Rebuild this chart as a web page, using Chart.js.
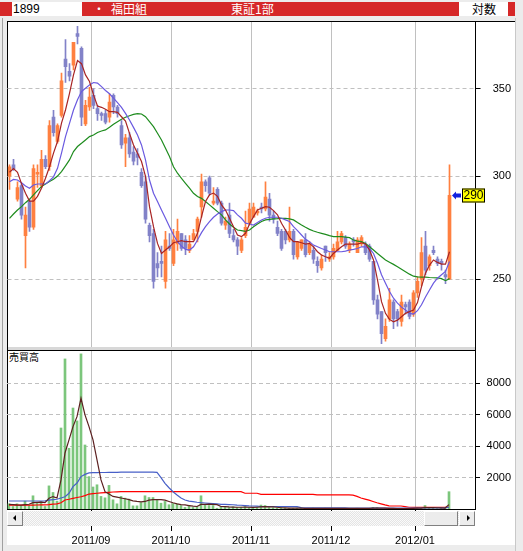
<!DOCTYPE html>
<html>
<head>
<meta charset="utf-8">
<script src="https://cdn.jsdelivr.net/npm/chart.js@4/dist/chart.umd.min.js"></script>
<style>
  body { margin: 0; width: 523px; height: 551px; background: #ececec; position: relative; overflow: hidden; }
  .abs { position: absolute; }
  .jp { font-family: "Noto Sans CJK JP", sans-serif; }
  .num { font-family: "Liberation Sans", sans-serif; }
  .btn { background: #ececec; box-sizing: border-box; border: 1px solid; border-color: #fff #808080 #808080 #fff; }
  canvas { position: absolute; left: 0; }
</style>
</head>
<body>
<!-- header strip -->
<div class="abs" style="left:0;top:2px;width:515px;height:14px;background:#d62828;"></div>
<div class="abs num" style="left:12px;top:2px;width:70px;height:14px;background:#fff;font-size:12px;line-height:14px;color:#000;padding-left:1px;box-sizing:border-box;">1899</div>
<div class="abs jp" style="left:93px;top:1px;font-size:12px;line-height:16px;color:#fff;">・</div>
<div class="abs jp" style="left:111px;top:1px;font-size:12px;line-height:16px;color:#fff;">福田組</div>
<div class="abs jp" style="left:231px;top:1px;font-size:12px;line-height:16px;color:#fff;">東証1部</div>
<div class="abs" style="left:459px;top:2px;width:49px;height:14px;background:#fff;"></div>
<div class="abs jp" style="left:472px;top:1px;font-size:12px;line-height:16px;color:#000;">対数</div>

<!-- frame -->
<div class="abs" style="left:2px;top:18px;width:1px;height:533px;background:#a0a0a0;"></div>
<div class="abs" style="left:515px;top:18px;width:1px;height:533px;background:#c8c8c8;"></div>
<div class="abs" style="left:7px;top:21px;width:508px;height:524px;background:#fff;"></div>
<div class="abs" style="left:7px;top:21px;width:508px;height:1px;background:#000;"></div>
<div class="abs" style="left:7px;top:21px;width:1px;height:489px;background:#000;"></div>
<div class="abs" style="left:8px;top:347px;width:467px;height:3px;background:#d8d8d8;"></div>
<div class="abs" style="left:7px;top:350px;width:468px;height:1px;background:#000;"></div>
<div class="abs" style="left:475px;top:21px;width:1px;height:489px;background:#000;"></div>
<div class="abs jp" style="left:9px;top:350px;font-size:10px;line-height:13px;color:#000;">売買高</div>

<canvas id="price" width="523" height="325" style="top:22px;width:523px;height:325px;"></canvas>
<canvas id="volume" width="523" height="194" style="top:351px;width:523px;height:194px;"></canvas>

<!-- scroll bar -->
<div class="abs" style="left:7px;top:511px;width:468px;height:15px;background-image:repeating-conic-gradient(#e4e4e4 0 25%, #fafafa 0 50%);background-size:2px 2px;"></div>
<div class="abs btn" style="left:7px;top:511px;width:16px;height:15px;"></div>
<div class="abs" style="left:13px;top:515px;width:0;height:0;border-top:3px solid transparent;border-bottom:3px solid transparent;border-right:3px solid #000;"></div>
<div class="abs btn" style="left:424px;top:511px;width:34px;height:15px;"></div>
<div class="abs btn" style="left:459px;top:511px;width:16px;height:15px;"></div>
<div class="abs" style="left:467px;top:515px;width:0;height:0;border-top:3px solid transparent;border-bottom:3px solid transparent;border-left:3px solid #000;"></div>

<script>
// trading days per month
const months = ["2011/08", "2011/09", "2011/10", "2011/11", "2011/12", "2012/01"];
const tradingDays = [
  [3, 4, 5, 8, 9, 10, 11, 12, 15, 16, 17, 18, 19, 22, 23, 24, 25, 26, 29, 30, 31],
  [1, 2, 5, 6, 7, 8, 9, 12, 13, 14, 15, 16, 20, 21, 22, 26, 27, 28, 29, 30],
  [3, 4, 5, 6, 7, 11, 12, 13, 14, 17, 18, 19, 20, 21, 24, 25, 26, 27, 28, 31],
  [1, 2, 4, 7, 8, 9, 10, 11, 14, 15, 16, 17, 18, 21, 22, 24, 25, 28, 29, 30],
  [1, 2, 5, 6, 7, 8, 9, 12, 13, 14, 15, 16, 19, 20, 21, 22, 26, 27, 28, 29, 30],
  [4, 5, 6, 10, 11, 12, 13, 16, 17],
];
const emptySlots = 6;

const open = [
  300, 306, 288, 295, 270, 287, 274, 301, 295, 309,
  305, 333, 319, 334, 369, 361, 365, 386, 376, 329,
  339, 346, 338, 335, 335, 333, 346, 339, 328, 318,
  321, 313, 312, 302, 297, 275, 271, 257, 258, 249,
  265, 257, 266, 271, 268, 263, 268, 272, 284, 297,
  299, 286, 293, 286, 275, 280, 270, 268, 263, 270,
  276, 279, 281, 284, 283, 288, 280, 274, 272, 272,
  268, 272, 260, 264, 268, 262, 263, 258, 255, 265,
  259, 260, 263, 267, 269, 263, 268, 262, 266, 266,
  265, 258, 241, 236, 225, 233, 240, 236, 232, 239,
  240, 235, 244, 250, 265, 256, 263, 259, 258, 252,
  250,
];
const high = [
  306, 309, 297, 296, 284, 288, 306, 306, 314, 311,
  331, 337, 329, 360, 382, 366, 380, 391, 377, 343,
  351, 350, 340, 336, 337, 347, 347, 340, 331, 323,
  324, 316, 315, 304, 300, 276, 273, 262, 265, 272,
  271, 273, 278, 271, 270, 270, 273, 279, 301, 298,
  300, 294, 294, 287, 279, 286, 273, 269, 269, 282,
  286, 286, 283, 286, 297, 291, 282, 277, 273, 273,
  284, 273, 267, 268, 271, 267, 265, 260, 261, 265,
  262, 266, 272, 272, 270, 267, 269, 269, 270, 267,
  266, 258, 243, 236, 233, 246, 241, 237, 243, 240,
  241, 245, 251, 269, 272, 261, 265, 260, 259, 254,
  306,
];
const low = [
  293, 303, 287, 278, 255, 272, 273, 294, 294, 304,
  303, 322, 318, 333, 354, 355, 362, 379, 328, 328,
  337, 338, 331, 331, 329, 330, 335, 333, 315, 305,
  310, 306, 306, 294, 276, 267, 246, 251, 251, 246,
  263, 256, 263, 263, 261, 262, 268, 267, 279, 292,
  290, 285, 285, 275, 273, 269, 267, 261, 262, 269,
  275, 279, 280, 281, 282, 277, 276, 270, 263, 266,
  267, 259, 259, 263, 260, 261, 257, 253, 254, 258,
  258, 259, 263, 266, 264, 262, 265, 262, 265, 261,
  258, 239, 233, 223, 224, 232, 229, 230, 230, 235,
  233, 234, 242, 247, 252, 254, 261, 256, 254, 248,
  250,
];
const close = [
  305, 304, 294, 280, 280, 274, 304, 302, 309, 305,
  328, 324, 328, 355, 364, 358, 380, 384, 333, 340,
  345, 340, 335, 334, 330, 342, 339, 335, 317, 321,
  312, 308, 310, 295, 278, 270, 249, 255, 257, 268,
  264, 268, 272, 264, 264, 266, 271, 278, 297, 295,
  291, 287, 286, 276, 277, 271, 268, 265, 268, 274,
  283, 284, 282, 283, 289, 280, 278, 271, 264, 268,
  272, 261, 267, 268, 261, 266, 259, 256, 259, 262,
  260, 264, 267, 271, 265, 266, 267, 268, 269, 262,
  259, 241, 235, 227, 230, 241, 233, 233, 240, 238,
  234, 244, 249, 262, 254, 260, 262, 257, 257, 251,
  290,
];

// moving averages
const maShort = [
  302, 304, 302, 296, 291, 287, 287, 289.4, 293.6, 298.8,
  305, 312.4, 318.9, 329.5, 337.2, 347.3, 358.8, 368, 366, 358.8,
  354.6, 346.3, 339.6, 338.8, 337.6, 336.2, 336.2, 335.8, 333.2, 330.7,
  323.5, 317, 312.4, 307.8, 299.8, 284.2, 274.3, 266.3, 261.6, 263.2,
  264.7, 266.6, 267.1, 267.6, 267.1, 267.1, 267.1, 271.1, 279.2, 286.8,
  290.2, 291.1, 289.4, 285.1, 282.5, 278.4, 274.3, 270.3, 269.5, 271.1,
  275.6, 279.2, 282.5, 283.4, 284.2, 283.9, 282.2, 280.1, 276, 272.7,
  269.2, 267.1, 267.1, 266.6, 266, 266.3, 264.7, 262.4, 260.9, 260.1,
  259.4, 261.6, 263.2, 264.7, 266, 266, 266, 266, 266.6, 266,
  263.2, 258.6, 249.6, 240.2, 235.3, 232.8, 231.8, 232.5, 233.9, 235.3,
  236, 236.7, 239.8, 246.7, 252.6, 256.3, 258.6, 257.5, 256.7, 256.7,
  262.4,
];
const maMid = [
  297, 298.2, 297.9, 296.5, 294.8, 293.6, 295.3, 295.8, 295.8, 295.8,
  297.5, 299.6, 304.1, 312.4, 321.7, 329.3, 337.2, 343.3, 348.4, 350.4,
  352.5, 354, 353.6, 351.4, 349, 347, 344.3, 341.6, 338.8, 335.2,
  331.3, 327, 322.6, 317, 308.7, 297.9, 291, 286.8, 282.5, 278.4,
  274.3, 270.3, 267.1, 265, 263.5, 263.2, 264.7, 267.9, 271.4, 274.3,
  276.8, 278.9, 280.5, 281.7, 282.5, 282.5, 282.2, 280.1, 278.4, 276,
  275.6, 275.1, 276.3, 277.6, 278.4, 278.9, 278.9, 278.9, 278.4, 277.6,
  276.8, 274.3, 272.4, 270.3, 268.2, 267.1, 265.5, 264.7, 263.9, 263.2,
  262.4, 262.4, 262.4, 262.4, 262.7, 263.2, 263.5, 263.9, 264.7, 264.7,
  263.9, 261.6, 257.1, 251.9, 248.2, 244.6, 241.7, 239.6, 237.9, 236.7,
  235.3, 235, 236.4, 238.9, 242.2, 245.2, 248.2, 250.4, 251.9, 253.4,
  257.9,
];
const maLong = [
  278.4, 280.5, 282.5, 284.2, 286.2, 287.9, 290.2, 292.4, 294.5, 295.8,
  297.1, 298.3, 300, 302.4, 305.5, 308.7, 313.3, 316.1, 317.9, 319.8,
  321.7, 322.6, 324, 324.9, 325.5, 327, 328.8, 330.3, 331.7, 332.9,
  333.8, 334.6, 335, 334.8, 333.2, 330.3, 327.4, 323.6, 319.8, 315.1,
  310.5, 305, 301.5, 298.8, 296.2, 293.6, 291, 289.3, 288.4, 286.8,
  285.1, 283.4, 281.7, 280.1, 277.6, 275.6, 274, 272.7, 272.4, 272,
  272.7, 274.3, 275.6, 276.8, 277.6, 277.9, 278.1, 278.2, 278.4, 278.4,
  278.1, 277.6, 276.3, 275.1, 274, 273, 272.2, 271.6, 271.1, 270.6,
  270, 269.5, 269.5, 269.5, 269.3, 269, 267.9, 267.4, 267.1, 266.3,
  264.7, 263.2, 261.6, 260.1, 258.6, 257.6, 256.6, 255.5, 254.4, 253.3,
  252.2, 251.3, 251, 250.9, 250.9, 250.7, 250.6, 250.5, 250.2, 249.3,
  250.2,
];

const volume = [
  330, 160, 330, 220, 500, 220, 840, 410, 480, 160,
  1470, 1050, 500, 5150, 9540, 3860, 6420, 5600, 9860, 4070,
  2060, 1400, 1540, 800, 710, 1500, 585, 330, 800, 690,
  630, 200, 200, 410, 840, 730, 730, 585, 370, 480,
  270, 350, 330, 220, 100, 220, 100, 160, 840, 270,
  220, 220, 50, 160, 120, 100, 140, 100, 120, 150,
  100, 80, 120, 250, 220, 100, 80, 60, 90, 60,
  50, 40, 60, 80, 40, 30, 60, 40, 30, 50,
  40, 30, 20, 40, 30, 40, 30, 50, 30, 20,
  40, 100, 90, 30, 20, 30, 40, 20, 30, 40,
  30, 40, 80, 60, 220, 40, 60, 30, 40, 50,
  1100,
];
const volShort = [
  300, 280, 260, 250, 280, 300, 400, 420, 440, 400,
  680, 790, 700, 1850, 3560, 4390, 5240, 5870, 7040, 5980,
  5240, 4390, 3120, 1850, 1100, 950, 800, 750, 700, 650,
  600, 520, 480, 450, 480, 560, 600, 600, 600, 560,
  480, 400, 330, 280, 260, 220, 180, 160, 290, 300,
  310, 300, 280, 160, 150, 130, 120, 110, 110, 120,
  110, 100, 110, 130, 150, 140, 130, 110, 80, 70,
  60, 55, 50, 50, 45, 45, 45, 40, 40, 40,
  35, 35, 35, 35, 35, 35, 35, 35, 35, 35,
  40, 50, 55, 55, 50, 40, 35, 30, 30, 30,
  30, 40, 50, 55, 90, 90, 85, 80, 75, 60,
  280,
];
const volMid = [
  510, 510, 510, 510, 510, 510, 510, 510, 510, 520,
  560, 600, 620, 700, 780, 1000, 1420, 1650, 2060, 2200,
  2300, 2310, 2310, 2320, 2320, 2330, 2330, 2330, 2340, 2340,
  2340, 2340, 2340, 2340, 2340, 2340, 2340, 2330, 2000, 1630,
  1350, 1100, 890, 700, 570, 500, 470, 430, 400, 380,
  360, 340, 320, 300, 290, 280, 270, 250, 240, 220,
  200, 190, 180, 160, 160, 160, 160, 160, 160, 160,
  150, 150, 150, 90, 80, 80, 80, 80, 80, 80,
  80, 80, 80, 80, 80, 60, 60, 60, 60, 60,
  60, 60, 60, 60, 60, 60, 60, 60, 60, 60,
  60, 60, 60, 65, 70, 70, 70, 75, 75, 75,
  110,
];
const volLong = [
  250, 250, 250, 250, 250, 250, 250, 255, 260, 265,
  280, 310, 330, 400, 570, 620, 680, 730, 780, 850,
  950, 980, 1000, 1020, 1040, 1060, 1080, 1090, 1100, 1100,
  1100, 1100, 1100, 1100, 1100, 1100, 1100, 1100, 1100, 1100,
  1100, 1100, 1100, 1100, 1100, 1100, 1100, 1100, 1100, 1100,
  1100, 1100, 1100, 1100, 1100, 1100, 1100, 1100, 1100, 1000,
  1000, 1000, 1000, 935, 935, 935, 935, 935, 935, 935,
  935, 935, 935, 935, 935, 935, 935, 900, 900, 900,
  900, 900, 900, 900, 900, 900, 880, 800, 700, 630,
  560, 480, 400, 330, 260, 200, 190, 190, 190, 150,
  110, 110, 110, 110, 110, 110, 110, 110, 110, 110,
  110,
];

const priceTicks = [250, 300, 350];
const volumeTicks = [2000, 4000, 6000, 8000];

// category labels
const labels = [];
const monthStart = {};
months.forEach((m, k) => {
  tradingDays[k].forEach((d, j) => {
    if (j === 0 && k > 0) monthStart[labels.length] = m;
    labels.push(m + "/" + String(d).padStart(2, "0"));
  });
});
for (let i = 0; i < emptySlots; i++) labels.push("");

const UP = "#ff8040";
const DOWN = "#8282c8";
const candleColors = close.map((c, i) => (c >= open[i] ? UP : DOWN));
const bodies = close.map((c, i) => [open[i], c]);
const wicks = close.map((c, i) => [low[i], high[i]]);

const monthGrid = (ctx) => (monthStart[ctx.index] ? "#c0c0c0" : "rgba(0,0,0,0)");
const monthTick = (ctx) => (monthStart[ctx.index] ? "#000" : "rgba(0,0,0,0)");
const axisFont = { family: "Liberation Sans", size: 11 };

const lastLabel = {
  id: "lastLabel",
  afterDatasetsDraw(chart) {
    const last = close.length - 1;
    const y = Math.round(chart.scales.y.getPixelForValue(close[last])) + 0.5;
    const x = Math.round(chart.scales.x.getPixelForValue(last)) + 2;
    const ctx = chart.ctx;
    ctx.save();
    ctx.fillStyle = "#1020e0";
    ctx.beginPath();
    ctx.moveTo(x, y);
    ctx.lineTo(x + 4, y - 4);
    ctx.lineTo(x + 4, y - 2);
    ctx.lineTo(x + 9, y - 2);
    ctx.lineTo(x + 9, y + 2);
    ctx.lineTo(x + 4, y + 2);
    ctx.lineTo(x + 4, y + 4);
    ctx.closePath();
    ctx.fill();
    ctx.fillStyle = "#ffff00";
    ctx.fillRect(x + 10, y - 7, 23, 14);
    ctx.strokeStyle = "#000";
    ctx.lineWidth = 1;
    ctx.strokeRect(x + 10.5, y - 6.5, 22, 13);
    ctx.fillStyle = "#000";
    ctx.font = "12px 'Liberation Sans'";
    ctx.textAlign = "center";
    ctx.textBaseline = "middle";
    ctx.fillText(String(close[last]), x + 21.5, y + 0.5);
    ctx.restore();
  },
};

const common = {
  animation: false,
  responsive: false,
  maintainAspectRatio: false,
  events: [],
  plugins: { legend: { display: false }, tooltip: { enabled: false } },
};

function maLine(data, color) {
  return {
    type: "line",
    data: data,
    borderColor: color,
    borderWidth: 1.2,
    pointRadius: 0,
    fill: false,
    order: 0,
  };
}

new Chart(document.getElementById("price"), {
  type: "bar",
  data: {
    labels: labels,
    datasets: [
      maLine(maShort, "#a82424"),
      maLine(maMid, "#6a5ae0"),
      maLine(maLong, "#1e8c1e"),
      {
        data: bodies,
        backgroundColor: candleColors,
        barThickness: 3,
        minBarLength: 1,
        grouped: false,
        order: 1,
      },
      {
        data: wicks,
        backgroundColor: candleColors,
        barThickness: 1,
        grouped: false,
        order: 2,
      },
    ],
  },
  options: {
    ...common,
    layout: { padding: { left: 7.5, right: 12, top: 0, bottom: 0 } },
    scales: {
      x: {
        grid: { offset: true, color: monthGrid, drawTicks: false },
        border: { display: false },
        ticks: { display: false, autoSkip: false },
        afterFit: (s) => {
          s.height = 0;
          s.paddingLeft = 0;
          s.paddingRight = 0;
        },
      },
      y: {
        type: "logarithmic",
        position: "right",
        min: 221.7,
        max: 394,
        bounds: "data",
        afterBuildTicks: (s) => {
          s.ticks = priceTicks.map((v) => ({ value: v }));
        },
        afterFit: (s) => {
          s.width = 35.5;
          s.paddingTop = 0;
          s.paddingBottom = 0;
        },
        grid: { color: "#c0c0c0", tickColor: "#000", tickLength: 5 },
        border: { color: "#000", dash: [4, 3] },
        ticks: {
          crossAlign: "far",
          color: "#000",
          font: axisFont,
          padding: 0,
          callback: (v) => String(v),
        },
      },
    },
  },
  plugins: [lastLabel],
});

new Chart(document.getElementById("volume"), {
  type: "bar",
  data: {
    labels: labels,
    datasets: [
      maLine(volShort, "#5c2020"),
      maLine(volMid, "#4860c8"),
      maLine(volLong, "#ff0000"),
      {
        data: volume,
        backgroundColor: "#7cc67c",
        barThickness: 2,
        order: 1,
      },
    ],
  },
  options: {
    ...common,
    layout: { padding: { left: 7, right: 12, top: 0, bottom: 0 } },
    scales: {
      x: {
        grid: { offset: true, color: monthGrid, tickColor: monthTick, tickLength: 22 },
        border: { color: "#000" },
        ticks: {
          autoSkip: false,
          maxRotation: 0,
          minRotation: 0,
          labelOffset: -2,
          padding: 3,
          color: "#000",
          font: axisFont,
          callback: (v, i) => monthStart[i] || "",
        },
        afterFit: (s) => {
          s.height = 36;
          s.paddingLeft = 0;
          s.paddingRight = 0;
        },
      },
      y: {
        position: "right",
        min: 0,
        max: 10045,
        afterBuildTicks: (s) => {
          s.ticks = volumeTicks.map((v) => ({ value: v }));
        },
        afterFit: (s) => {
          s.width = 36;
          s.paddingTop = 0;
          s.paddingBottom = 0;
        },
        grid: { color: "#c0c0c0", tickColor: "#000", tickLength: 5 },
        border: { color: "#000", dash: [4, 3] },
        ticks: {
          crossAlign: "far",
          color: "#000",
          font: axisFont,
          padding: 0,
          callback: (v) => String(v),
        },
      },
    },
  },
});
</script>
</body>
</html>
